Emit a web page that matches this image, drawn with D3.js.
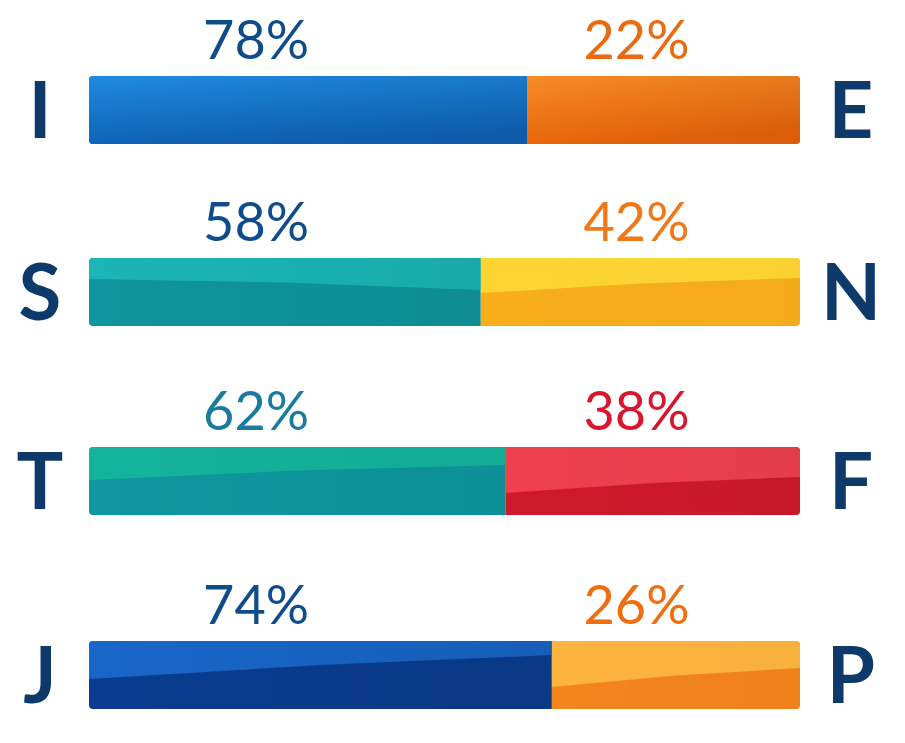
<!DOCTYPE html>
<html>
<head>
<meta charset="utf-8">
<script src="https://cdn.jsdelivr.net/npm/d3@7"></script>
<style>
  html, body { margin: 0; padding: 0; background: #ffffff; }
  svg { display: block; }
</style>
</head>
<body>
<svg id="chart" width="905" height="743"></svg>
<script>
// ---- data ----
const leftLetters = ["I", "S", "T", "J"];
const rightLetters = ["E", "N", "F", "P"];
const leftPct = [78, 58, 62, 74];
const rightPct = [22, 42, 38, 26];
// split point of each bar as drawn in the picture (share of bar length, %)
const drawnShare = [61.6, 55.1, 58.6, 65.1];

// ---- styles ----
const leftTop = ["#1f8ae2", "#1bb7b8", "#15b69b", "#1a69cd"];
const leftBottom = ["#0e61b4", "#0f959d", "#0e979f", "#0a3d90"];
const rightTop = ["#f78c26", "#fdd834", "#f14352", "#fdb941"];
const rightBottom = ["#e8630b", "#f8ae1b", "#d0192b", "#f4841c"];
const leftLabelColor = ["#0f4c8c", "#0f4c8c", "#1a7aa0", "#0f4c8c"];
const rightLabelColor = ["#ea6a12", "#f07818", "#d8172e", "#f26c10"];
// highlight boundary offsets (px below bar top) at left/right end of each segment
const leftHL = [[null, null], [21, 32], [33, 18], [38, 14]];
const rightHL = [[null, null], [35, 20], [46, 30], [46, 27]];
const shadeLeft = [0.06, 0.06, 0.05, 0.08];
const shadeRight = [0.06, 0.015, 0.05, 0.02];
const letterColor = "#0d3a6b";
// row centres (layout)
const rowCentres = [110, 292, 481, 675];

const svg = d3.select("#chart");

const x = d3.scaleLinear().domain([0, 100]).range([89, 800]);
const y = d3.scaleOrdinal().domain(d3.range(leftLetters.length)).range(rowCentres);
const barH = 68;

const defs = svg.append("defs");

function shadeGrad(id, op) {
  const g = defs.append("linearGradient").attr("id", id)
    .attr("x1", "0").attr("y1", "0").attr("x2", "1").attr("y2", "0");
  g.append("stop").attr("offset", "0%").attr("stop-color", "#000").attr("stop-opacity", 0);
  g.append("stop").attr("offset", "100%").attr("stop-color", "#000").attr("stop-opacity", op);
}

leftLetters.forEach((_, i) => {
  const g1 = defs.append("linearGradient").attr("id", "gl" + i)
    .attr("x1", "0").attr("y1", "0").attr("x2", "0.25").attr("y2", "1");
  g1.append("stop").attr("offset", "0%").attr("stop-color", leftTop[i]);
  g1.append("stop").attr("offset", "100%").attr("stop-color", leftBottom[i]);
  const g2 = defs.append("linearGradient").attr("id", "gr" + i)
    .attr("x1", "0").attr("y1", "0").attr("x2", "0.25").attr("y2", "1");
  g2.append("stop").attr("offset", "0%").attr("stop-color", rightTop[i]);
  g2.append("stop").attr("offset", "100%").attr("stop-color", rightBottom[i]);
  shadeGrad("shadeL" + i, shadeLeft[i]);
  shadeGrad("shadeR" + i, shadeRight[i]);
  defs.append("clipPath").attr("id", "clip" + i)
    .append("rect")
    .attr("x", x(0)).attr("y", y(i) - barH / 2)
    .attr("width", x(100) - x(0)).attr("height", barH)
    .attr("rx", 4).attr("ry", 4);
});

const rows = svg.selectAll("g.row")
  .data(leftLetters.map((l, i) => ({ i, l })))
  .join("g").attr("class", "row");

rows.each(function (d) {
  const i = d.i;
  const g = d3.select(this);
  const top = y(i) - barH / 2;
  const xs = x(drawnShare[i]);
  const bar = g.append("g").attr("clip-path", `url(#clip${i})`);

  bar.append("rect")
    .attr("x", x(0)).attr("y", top)
    .attr("width", xs - x(0)).attr("height", barH)
    .attr("fill", leftBottom[i]);
  bar.append("rect")
    .attr("x", xs).attr("y", top)
    .attr("width", x(100) - xs).attr("height", barH)
    .attr("fill", rightBottom[i]);

  if (leftHL[i][0] === null) {
    bar.append("rect")
      .attr("x", x(0)).attr("y", top)
      .attr("width", xs - x(0)).attr("height", barH)
      .attr("fill", `url(#gl${i})`);
    bar.append("rect")
      .attr("x", xs).attr("y", top)
      .attr("width", x(100) - xs).attr("height", barH)
      .attr("fill", `url(#gr${i})`);
  } else {
    const lp = [[x(0), top], [xs, top], [xs, top + leftHL[i][1]],
                [(x(0) + xs) / 2, top + (leftHL[i][0] + leftHL[i][1]) / 2 - 2],
                [x(0), top + leftHL[i][0]]];
    bar.append("path")
      .attr("d", d3.line()(lp) + "Z")
      .attr("fill", leftTop[i]).attr("opacity", 0.92);
    const rp = [[xs, top], [x(100), top], [x(100), top + rightHL[i][1]],
                [(xs + x(100)) / 2, top + (rightHL[i][0] + rightHL[i][1]) / 2 - 2],
                [xs, top + rightHL[i][0]]];
    bar.append("path")
      .attr("d", d3.line()(rp) + "Z")
      .attr("fill", rightTop[i]).attr("opacity", 0.92);
  }
  bar.append("rect")
    .attr("x", x(0)).attr("y", top)
    .attr("width", xs - x(0)).attr("height", barH)
    .attr("fill", `url(#shadeL${i})`);
  bar.append("rect")
    .attr("x", xs).attr("y", top)
    .attr("width", x(100) - xs).attr("height", barH)
    .attr("fill", `url(#shadeR${i})`);

  const font = "Lato, 'Open Sans', sans-serif";
  g.append("text")
    .attr("x", 40).attr("y", y(i))
    .attr("dy", "0.36em")
    .attr("text-anchor", "middle")
    .attr("font-family", font)
    .attr("font-weight", 700).attr("font-size", 78)
    .attr("fill", letterColor)
    .text(leftLetters[i]);
  g.append("text")
    .attr("x", 851).attr("y", y(i))
    .attr("dy", "0.36em")
    .attr("text-anchor", "middle")
    .attr("font-family", font)
    .attr("font-weight", 700).attr("font-size", 78)
    .attr("fill", letterColor)
    .text(rightLetters[i]);

  g.append("text")
    .attr("x", x(23.5)).attr("y", top - 17)
    .attr("text-anchor", "middle")
    .attr("font-family", font)
    .attr("font-weight", 400).attr("font-size", 54)
    .attr("fill", leftLabelColor[i])
    .text(leftPct[i] + "%");
  g.append("text")
    .attr("x", x(77)).attr("y", top - 17)
    .attr("text-anchor", "middle")
    .attr("font-family", font)
    .attr("font-weight", 400).attr("font-size", 54)
    .attr("fill", rightLabelColor[i])
    .text(rightPct[i] + "%");
});
</script>
</body>
</html>
